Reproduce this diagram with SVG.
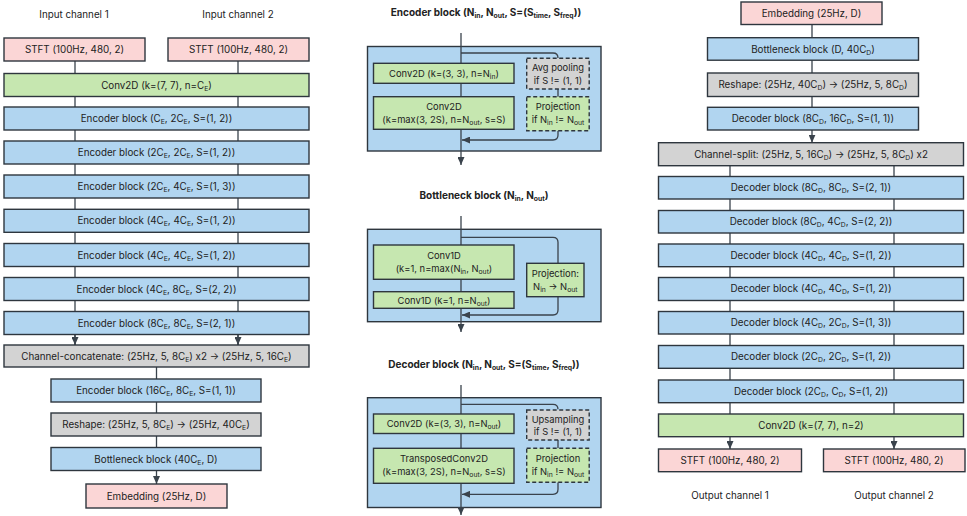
<svg xmlns="http://www.w3.org/2000/svg" width="967" height="516" viewBox="0 0 967 516">
<defs>
<marker id="ah" markerUnits="userSpaceOnUse" markerWidth="8" markerHeight="7" refX="8" refY="3.5" orient="auto">
<path d="M0,0 L8,3.5 L0,7 z" fill="#3a434c"/>
</marker>
<style>
text{font-family:Inter,"Noto Sans","Liberation Sans",sans-serif;font-size:9.8px;fill:#222;text-anchor:middle}
.t{font-weight:bold;font-size:10px}
.d{font-size:9.4px}
.s{font-size:6.8px;baseline-shift:-1.8px}
.box{stroke:#2e363e;stroke-width:1.4}
.pink{fill:#fbd6d6}
.green{fill:#c6e7b0}
.blue{fill:#b1d5f0}
.gray{fill:#d3d3d3}
.dash{stroke-dasharray:4 2.5}
.ln{stroke:#3a434c;stroke-width:1.3;fill:none}
</style>
</defs>
<!-- labels -->
<text x="74" y="18">Input channel 1</text>
<text x="238" y="18">Input channel 2</text>
<text x="730" y="499">Output channel 1</text>
<text x="894" y="499">Output channel 2</text>
<text class="t" x="486" y="16">Encoder block (N<tspan class="s">in</tspan>, N<tspan class="s">out</tspan>, S=(S<tspan class="s">time</tspan>, S<tspan class="s">freq</tspan>))</text>
<text class="t" x="484" y="199">Bottleneck block (N<tspan class="s">in</tspan>, N<tspan class="s">out</tspan>)</text>
<text class="t" x="484" y="368">Decoder block (N<tspan class="s">in</tspan>, N<tspan class="s">out</tspan>, S=(S<tspan class="s">time</tspan>, S<tspan class="s">freq</tspan>))</text>

<g id="connectors">
<!-- left column -->
<path class="ln" d="M75,61 V345"/>
<path class="ln" d="M238,61 V345"/>
<path class="ln" d="M75,334 V345" marker-end="url(#ah)"/>
<path class="ln" d="M238,334 V345" marker-end="url(#ah)"/>
<path class="ln" d="M156.5,367 V447"/>
<path class="ln" d="M156.5,470 V484" marker-end="url(#ah)"/>
<!-- right column -->
<path class="ln" d="M812,24 V107"/>
<path class="ln" d="M812,130 V142.7" marker-end="url(#ah)"/>
<path class="ln" d="M730,165 V414"/>
<path class="ln" d="M894,165 V414"/>
<path class="ln" d="M730,437 V449" marker-end="url(#ah)"/>
<path class="ln" d="M894,437 V449" marker-end="url(#ah)"/>
</g>

<!-- left column nodes -->
<g id="in_stft1"><rect class="box pink" x="4" y="38" width="141" height="23"/><text x="74.5" y="53">STFT (100Hz, 480, 2)</text></g>
<g id="in_stft2"><rect class="box pink" x="168" y="38" width="141" height="23"/><text x="238.5" y="53">STFT (100Hz, 480, 2)</text></g>
<g id="enc_conv"><rect class="box green" x="4" y="73.5" width="305" height="23"/><text x="156.5" y="88.5">Conv2D (k=(7, 7), n=C<tspan class="s">E</tspan>)</text></g>
<g id="enc1"><rect class="box blue" x="4" y="107" width="305" height="23"/><text x="156.5" y="122">Encoder block (C<tspan class="s">E</tspan>, 2C<tspan class="s">E</tspan>, S=(1, 2))</text></g>
<g id="enc2"><rect class="box blue" x="4" y="141" width="305" height="23"/><text x="156.5" y="156">Encoder block (2C<tspan class="s">E</tspan>, 2C<tspan class="s">E</tspan>, S=(1, 2))</text></g>
<g id="enc3"><rect class="box blue" x="4" y="175" width="305" height="23"/><text x="156.5" y="190">Encoder block (2C<tspan class="s">E</tspan>, 4C<tspan class="s">E</tspan>, S=(1, 3))</text></g>
<g id="enc4"><rect class="box blue" x="4" y="209.3" width="305" height="23"/><text x="156.5" y="224.3">Encoder block (4C<tspan class="s">E</tspan>, 4C<tspan class="s">E</tspan>, S=(1, 2))</text></g>
<g id="enc5"><rect class="box blue" x="4" y="243.5" width="305" height="23"/><text x="156.5" y="258.5">Encoder block (4C<tspan class="s">E</tspan>, 4C<tspan class="s">E</tspan>, S=(1, 2))</text></g>
<g id="enc6"><rect class="box blue" x="4" y="277.5" width="305" height="23"/><text x="156.5" y="292.5">Encoder block (4C<tspan class="s">E</tspan>, 8C<tspan class="s">E</tspan>, S=(2, 2))</text></g>
<g id="enc7"><rect class="box blue" x="4" y="311.5" width="305" height="23"/><text x="156.5" y="326.5">Encoder block (8C<tspan class="s">E</tspan>, 8C<tspan class="s">E</tspan>, S=(2, 1))</text></g>
<g id="concat"><rect class="box gray" x="4" y="345" width="305" height="22"/><text x="156.5" y="359.5">Channel-concatenate: (25Hz, 5, 8C<tspan class="s">E</tspan>) x2 → (25Hz, 5, 16C<tspan class="s">E</tspan>)</text></g>
<g id="enc8"><rect class="box blue" x="51" y="379" width="210" height="23"/><text x="156" y="394">Encoder block (16C<tspan class="s">E</tspan>, 8C<tspan class="s">E</tspan>, S=(1, 1))</text></g>
<g id="enc_reshape"><rect class="box gray" x="51" y="413" width="210" height="23"/><text x="156" y="428">Reshape: (25Hz, 5, 8C<tspan class="s">E</tspan>) → (25Hz, 40C<tspan class="s">E</tspan>)</text></g>
<g id="enc_bottleneck"><rect class="box blue" x="51" y="447.5" width="210" height="23"/><text x="156" y="462.5">Bottleneck block (40C<tspan class="s">E</tspan>, D)</text></g>
<g id="enc_embedding"><rect class="box pink" x="86" y="484" width="141" height="24"/><text x="156.5" y="499.5">Embedding (25Hz, D)</text></g>

<!-- middle: encoder block detail -->
<g id="detail_encoder">
<rect class="box blue" x="367.5" y="46.5" width="233.5" height="104.5"/>
<path class="ln" d="M461,33 V165" marker-end="url(#ah)"/>
<path class="ln" d="M461,53 H553 Q558,53 558,58 M558,89 V97 M558,130.7 V135 Q558,140 553,140 H462" marker-end="url(#ah)"/>
<rect class="box green" x="373.5" y="63.3" width="140.5" height="20"/>
<text class="d" x="444" y="77">Conv2D (k=(3, 3), n=N<tspan class="s">in</tspan>)</text>
<rect class="box green" x="373.5" y="96.7" width="140.5" height="32.6"/>
<text class="d" x="444" y="109.5">Conv2D</text>
<text class="d" x="444" y="122.5">(k=max(3, 2S), n=N<tspan class="s">out</tspan>, s=S)</text>
<rect class="box gray dash" x="526.7" y="58.3" width="62.5" height="30.7"/>
<text class="d" x="558" y="71">Avg pooling</text>
<text class="d" x="558" y="83.5">if S != (1, 1)</text>
<rect class="box green dash" x="526.7" y="96.7" width="62.5" height="34"/>
<text class="d" x="558" y="109.5">Projection</text>
<text class="d" x="558" y="122.5">if N<tspan class="s">in</tspan> != N<tspan class="s">out</tspan></text>
</g>

<!-- middle: bottleneck block detail -->
<g id="detail_bottleneck">
<rect class="box blue" x="367.5" y="229.3" width="233.5" height="92.4"/>
<path class="ln" d="M461,216 V332" marker-end="url(#ah)"/>
<path class="ln" d="M461,237.3 H553 Q558,237.3 558,242.3 V263.3 M558,296.7 V310 Q558,315 553,315 H462" marker-end="url(#ah)"/>
<rect class="box green" x="373.5" y="245" width="140.5" height="34.3"/>
<text class="d" x="444" y="258.5">Conv1D</text>
<text class="d" x="444" y="271.5">(k=1, n=max(N<tspan class="s">in</tspan>, N<tspan class="s">out</tspan>)</text>
<rect class="box green" x="373.5" y="291.7" width="140.5" height="16.6"/>
<text class="d" x="444" y="303.5">Conv1D (k=1, n=N<tspan class="s">out</tspan>)</text>
<rect class="box green" x="526.7" y="263.3" width="57.3" height="33.4"/>
<text class="d" x="555.3" y="276.5">Projection:</text>
<text class="d" x="555.3" y="289.5">N<tspan class="s">in</tspan> → N<tspan class="s">out</tspan></text>
</g>

<!-- middle: decoder block detail -->
<g id="detail_decoder">
<rect class="box blue" x="367.5" y="397.7" width="233.5" height="109.8"/>
<path class="ln" d="M461,385 V515" marker-end="url(#ah)"/>
<path class="ln" d="M461,404.3 H553 Q558,404.3 558,409.3 M558,440 V448.3 M558,482.3 V489.3 Q558,494.3 553,494.3 H462" marker-end="url(#ah)"/>
<rect class="box green" x="373.5" y="414" width="140.5" height="19.5"/>
<text class="d" x="444" y="427.3">Conv2D (k=(3, 3), n=N<tspan class="s">out</tspan>)</text>
<rect class="box green" x="373.5" y="448.3" width="140.5" height="35"/>
<text class="d" x="444" y="462">TransposedConv2D</text>
<text class="d" x="444" y="475">(k=max(3, 2S), n=N<tspan class="s">out</tspan>, s=S)</text>
<rect class="box gray dash" x="526.7" y="410" width="62.5" height="30"/>
<text class="d" x="558" y="422.5">Upsampling</text>
<text class="d" x="558" y="435">if S != (1, 1)</text>
<rect class="box green dash" x="526.7" y="448.3" width="62.5" height="34"/>
<text class="d" x="558" y="461.5">Projection</text>
<text class="d" x="558" y="474.5">if N<tspan class="s">in</tspan> != N<tspan class="s">out</tspan></text>
</g>

<!-- right column nodes -->
<g id="dec_embedding"><rect class="box pink" x="741" y="2" width="141" height="22.5"/><text x="811.5" y="16.5">Embedding (25Hz, D)</text></g>
<g id="dec_bottleneck"><rect class="box blue" x="707.5" y="37.7" width="211" height="22.5"/><text x="813" y="52.5">Bottleneck block (D, 40C<tspan class="s">D</tspan>)</text></g>
<g id="dec_reshape"><rect class="box gray" x="707.5" y="73" width="211" height="23.5"/><text x="813" y="88">Reshape: (25Hz, 40C<tspan class="s">D</tspan>) → (25Hz, 5, 8C<tspan class="s">D</tspan>)</text></g>
<g id="dec1"><rect class="box blue" x="707.5" y="107.3" width="211" height="22.7"/><text x="813" y="122">Decoder block (8C<tspan class="s">D</tspan>, 16C<tspan class="s">D</tspan>, S=(1, 1))</text></g>
<g id="split"><rect class="box gray" x="658.5" y="142.7" width="305" height="23"/><text x="811" y="157.5">Channel-split: (25Hz, 5, 16C<tspan class="s">D</tspan>) → (25Hz, 5, 8C<tspan class="s">D</tspan>) x2</text></g>
<g id="dec2"><rect class="box blue" x="658.5" y="176.5" width="305" height="22.5"/><text x="811" y="191">Decoder block (8C<tspan class="s">D</tspan>, 8C<tspan class="s">D</tspan>, S=(2, 1))</text></g>
<g id="dec3"><rect class="box blue" x="658.5" y="210.5" width="305" height="22.5"/><text x="811" y="225">Decoder block (8C<tspan class="s">D</tspan>, 4C<tspan class="s">D</tspan>, S=(2, 2))</text></g>
<g id="dec4"><rect class="box blue" x="658.5" y="244" width="305" height="22.7"/><text x="811" y="258.5">Decoder block (4C<tspan class="s">D</tspan>, 4C<tspan class="s">D</tspan>, S=(1, 2))</text></g>
<g id="dec5"><rect class="box blue" x="658.5" y="277.5" width="305" height="23"/><text x="811" y="292">Decoder block (4C<tspan class="s">D</tspan>, 4C<tspan class="s">D</tspan>, S=(1, 2))</text></g>
<g id="dec6"><rect class="box blue" x="658.5" y="311.5" width="305" height="22.5"/><text x="811" y="326">Decoder block (4C<tspan class="s">D</tspan>, 2C<tspan class="s">D</tspan>, S=(1, 3))</text></g>
<g id="dec7"><rect class="box blue" x="658.5" y="345.5" width="305" height="22.8"/><text x="811" y="360">Decoder block (2C<tspan class="s">D</tspan>, 2C<tspan class="s">D</tspan>, S=(1, 2))</text></g>
<g id="dec8"><rect class="box blue" x="658.5" y="380" width="305" height="22.7"/><text x="811" y="394.5">Decoder block (2C<tspan class="s">D</tspan>, C<tspan class="s">D</tspan>, S=(1, 2))</text></g>
<g id="dec_conv"><rect class="box green" x="658.5" y="414" width="305" height="22.7"/><text x="811" y="428.5">Conv2D (k=(7, 7), n=2)</text></g>
<g id="out_stft1"><rect class="box pink" x="658.5" y="449" width="143" height="22.7"/><text x="730" y="463.5">STFT (100Hz, 480, 2)</text></g>
<g id="out_stft2"><rect class="box pink" x="823.5" y="449" width="141.5" height="22.7"/><text x="894" y="463.5">STFT (100Hz, 480, 2)</text></g>
</svg>
